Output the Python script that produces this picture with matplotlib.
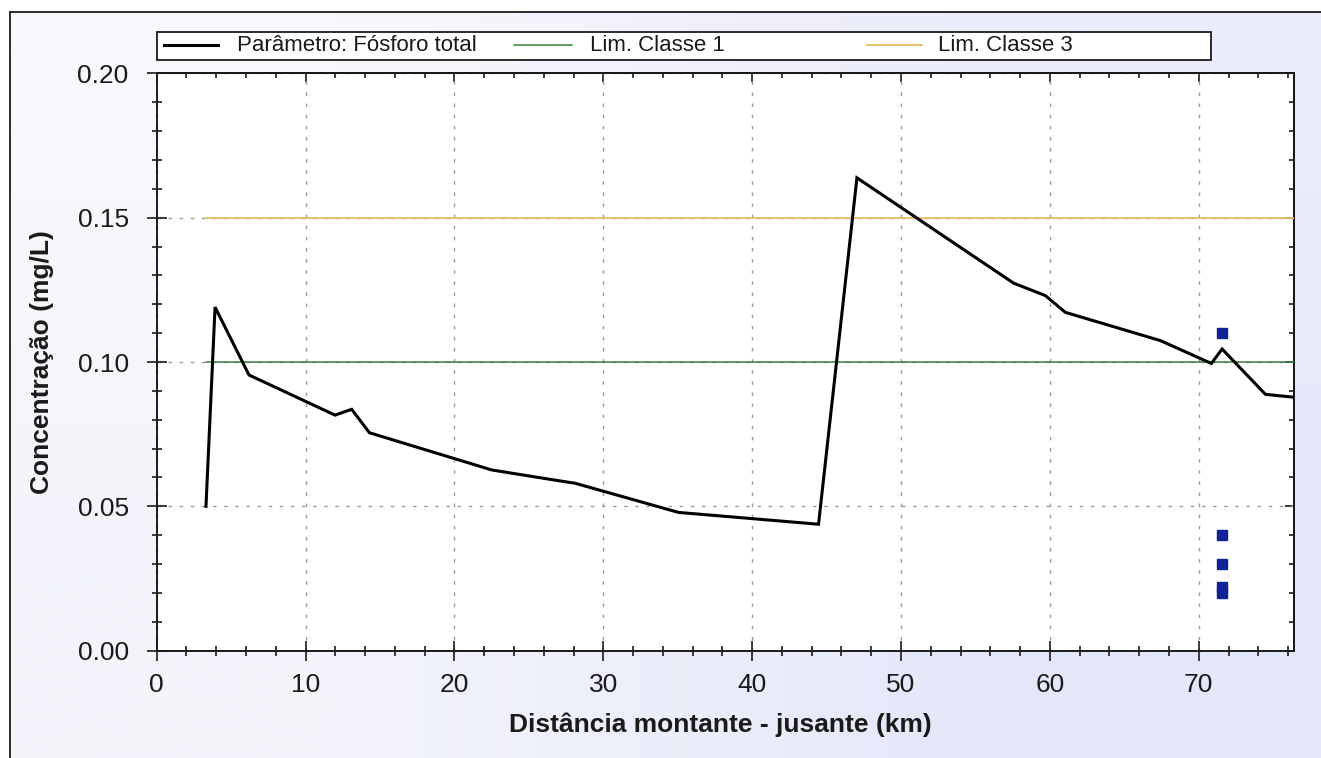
import numpy as np
import matplotlib
matplotlib.use("Agg")
import matplotlib.pyplot as plt
from matplotlib.ticker import MultipleLocator, FormatStrFormatter
from matplotlib.lines import Line2D
from matplotlib.patches import Rectangle

plt.rcParams["font.family"] = ["Liberation Sans", "DejaVu Sans"]

# Perfil longitudinal de fósforo total
dist_km = [3.31, 3.92, 6.20, 11.98, 13.10, 14.29, 22.51, 27.10, 28.11, 35.05,
           44.46, 47.04, 57.57, 59.70, 61.04, 67.43, 70.85, 71.57, 74.48, 76.38]
fosforo = [0.050, 0.119, 0.0955, 0.0816, 0.0836, 0.0755, 0.0626, 0.0588, 0.058,
           0.0479, 0.0438, 0.1638, 0.1273, 0.1230, 0.1172, 0.1074, 0.0995,
           0.1045, 0.0888, 0.0878]

# Dados observados
obs_km = [71.54, 71.54, 71.54, 71.54, 71.54]
obs_val = [0.11, 0.04, 0.03, 0.022, 0.020]

# Limites de classe
lim_classe1 = 0.10
lim_classe3 = 0.15

legend_labels = ["Parâmetro: Fósforo total", "Lim. Classe 1", "Lim. Classe 3"]
xlabel = "Distância montante - jusante (km)"
ylabel = "Concentração (mg/L)"

W, H = 1321, 758
fig = plt.figure(figsize=(W / 100, H / 100), dpi=100)
fig.patch.set_facecolor("white")


def fx(px):
    return px / W


def fy(py):
    return 1 - py / H


# background panel with soft gradient and frame lines
bg = fig.add_axes([0, 0, 1, 1], zorder=-10)
bg.set_xlim(0, W)
bg.set_ylim(H, 0)
bg.axis("off")
grad = np.array([[[248, 248, 252], [234, 235, 250]],
                 [[243, 244, 251], [228, 231, 249]]]) / 255.0
bg.imshow(grad, extent=(10, W, H, 12), interpolation="bilinear", aspect="auto")
bg.plot([10, 10], [H, 12], color="#1a1a1a", lw=1.3)
bg.plot([10, W], [12, 12], color="#1a1a1a", lw=1.3)

# main plot area
left, right, top, bottom = 156.7, 1294, 73.3, 650.7
ax = fig.add_axes([fx(left), fy(bottom), (right - left) / W, (bottom - top) / H])
ax.set_facecolor("white")

line_col = "#000000"
green = "#3d7a3d"
gold = "#e8bd5e"
blue = "#0f2296"

ax.plot(dist_km, fosforo, color=line_col, lw=2.2, zorder=5, solid_joinstyle="miter")
ax.plot([dist_km[0], dist_km[-1]], [lim_classe1, lim_classe1], color=green, lw=1.1, zorder=4)
ax.plot([dist_km[0], dist_km[-1]], [lim_classe3, lim_classe3], color=gold, lw=1.3, zorder=4)
ax.plot(obs_km, obs_val, ls="none", marker="s", ms=7, color=blue, mec=blue, zorder=6)

ax.set_xlim(0, 76.4)
ax.set_ylim(0, 0.20)

ax.set_xticks(np.arange(0, 71, 10))
ax.xaxis.set_minor_locator(MultipleLocator(2))
ax.set_yticks(np.arange(0, 0.201, 0.05))
ax.yaxis.set_minor_locator(MultipleLocator(0.01))
ax.yaxis.set_major_formatter(FormatStrFormatter("%.2f"))

ax.tick_params(which="major", direction="inout", length=14.4, width=1.2,
               labelsize=19, pad=13, colors="#1a1a1a")
ax.tick_params(axis="x", which="major", pad=9)
ax.tick_params(which="minor", direction="inout", length=7.2, width=1.2, colors="#1a1a1a")

ax.grid(True, which="major", color="#9a9a9a", lw=1.0, ls=(0, (2.5, 5.5)), zorder=1)

for s in ax.spines.values():
    s.set_linewidth(1.4)
    s.set_color("#1a1a1a")

secx = ax.secondary_xaxis("top")
secx.set_xticks(np.arange(0, 71, 10), labels=[])
secx.xaxis.set_minor_locator(MultipleLocator(2))
secx.tick_params(which="major", direction="in", length=6.5, width=1.2, colors="#1a1a1a")
secx.tick_params(which="minor", direction="in", length=3.8, width=1.2, colors="#1a1a1a")
secx.spines["top"].set_linewidth(1.4)

secy = ax.secondary_yaxis("right")
secy.set_yticks(np.arange(0, 0.201, 0.05), labels=[])
secy.yaxis.set_minor_locator(MultipleLocator(0.01))
secy.tick_params(which="major", direction="in", length=6.5, width=1.2, colors="#1a1a1a")
secy.tick_params(which="minor", direction="in", length=3.8, width=1.2, colors="#1a1a1a")
secy.spines["right"].set_linewidth(1.4)

ax.set_xlabel(xlabel, fontsize=19, fontweight="bold", va="center", color="#1a1a1a")
ax.xaxis.set_label_coords((720 - left) / (right - left), (bottom - 725) / (bottom - top))
ax.set_ylabel(ylabel, fontsize=19, fontweight="bold", va="center", color="#1a1a1a")
ax.yaxis.set_label_coords((42 - left) / (right - left), 0.5)

# legend strip across the top
fig.add_artist(Rectangle((fx(157), fy(60)), (1211 - 157) / W, (60 - 31.7) / H,
                         transform=fig.transFigure, facecolor="white",
                         edgecolor="#1a1a1a", lw=1.3))
entries = [(164, 218, 237, line_col, 2.2), (514, 572, 590, green, 1.1),
           (867, 922, 938, gold, 1.3)]
for (h0, h1, tx, col, lw), lab in zip(entries, legend_labels):
    fig.add_artist(Line2D([fx(h0), fx(h1)], [fy(44.5), fy(44.5)],
                          transform=fig.transFigure, color=col, lw=lw))
    fig.text(fx(tx), fy(45.5), lab, fontsize=16, va="center", ha="left", color="#1a1a1a")

fig.savefig("out.png", dpi=100)
